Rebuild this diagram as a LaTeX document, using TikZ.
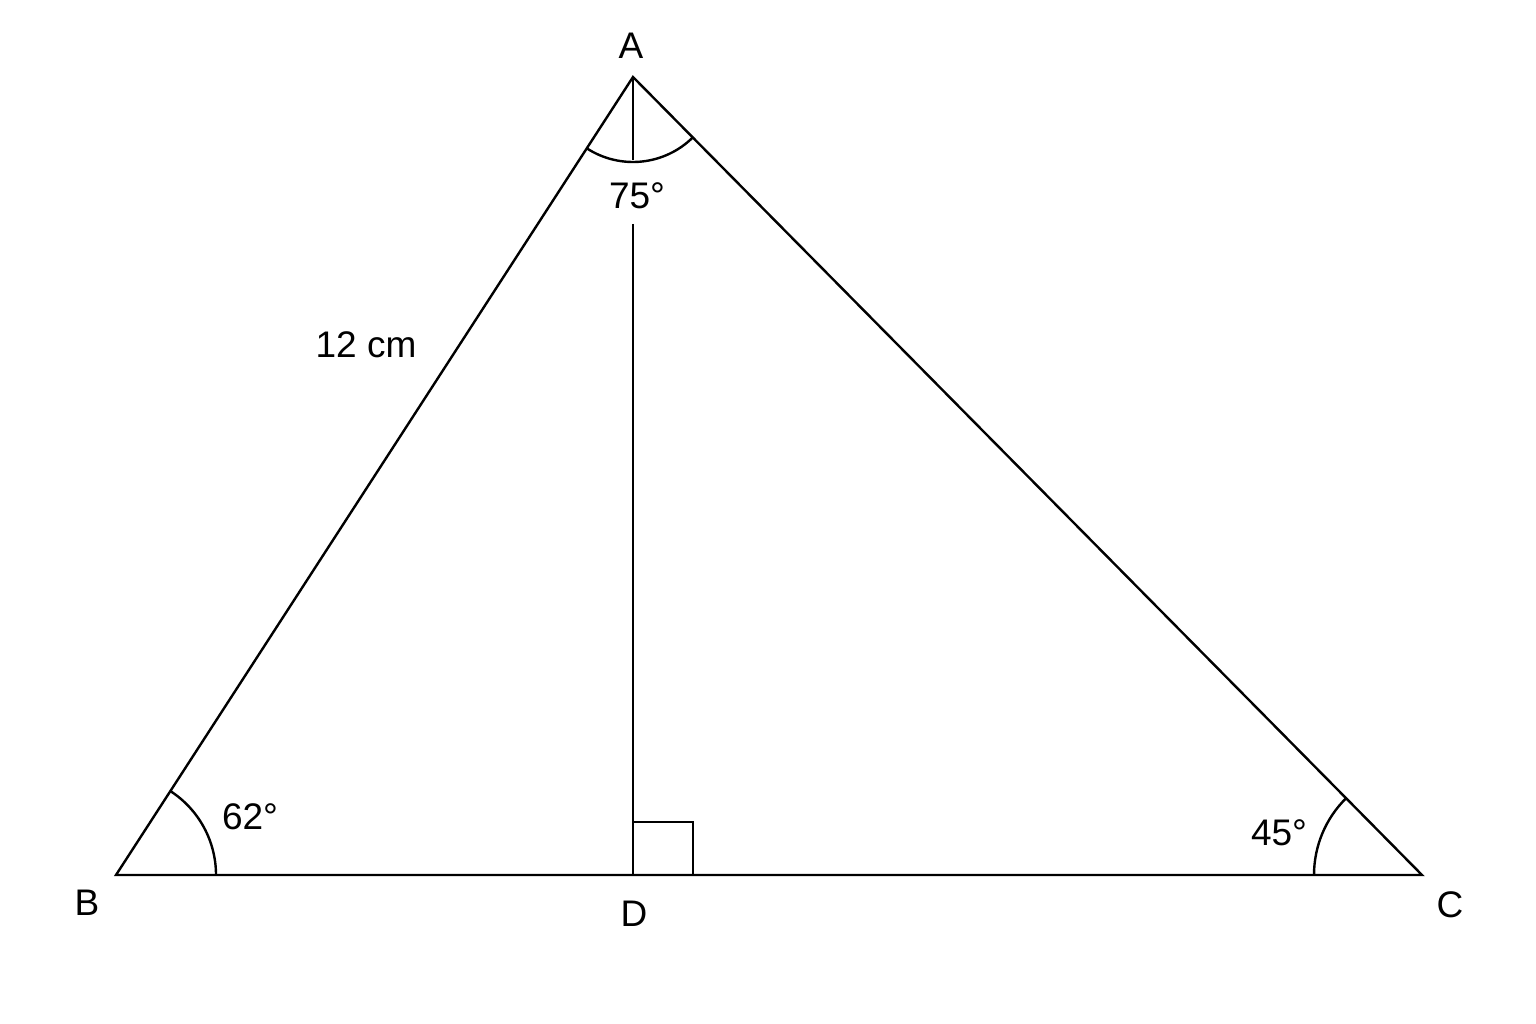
\documentclass[tikz,border=0pt]{standalone}
\usepackage{fontspec}
\setmainfont{Liberation Sans}
\usetikzlibrary{calc}
\begin{document}
\begin{tikzpicture}[x=1pt,y=1pt,line width=2.4pt,
  lbl/.style={font=\fontsize{37}{42}\selectfont,inner sep=0pt}]
\useasboundingbox (0,0) rectangle (1536,-1024);
\coordinate (A) at (633,-77);
\coordinate (B) at (116,-875);
\coordinate (C) at (1422,-875);
\coordinate (D) at (633,-875);
\coordinate (G1) at (633,-160);
\coordinate (G2) at (633,-224);
% triangle
\draw (B) -- (C) -- (A) -- cycle;
% altitude with gap for label
\draw (A) -- (G1);
\draw (G2) -- (D);
% right angle mark
\draw ($(D)+(0,53)$) -- ($(D)+(60,53)$) -- ($(D)+(60,0)$);
% angle arcs
\draw ($(B)+(100,0)$) arc[start angle=0,end angle=57.1,radius=100];
\draw ($(C)+(-108,0)$) arc[start angle=180,end angle=134.7,radius=108];
\draw ($(A)+(237.1:85)$) arc[start angle=237.1,end angle=314.7,radius=85];
% labels
\node[lbl] (lA) at (631,-46) {A};
\node[lbl] (lB) at (87,-903) {B};
\node[lbl] (lC) at (1450,-905) {C};
\node[lbl] (lD) at (634,-914) {D};
\node[lbl] (l75) at (637,-196) {75°};
\node[lbl] (l62) at (250,-817) {62°};
\node[lbl] (l45) at (1279,-833) {45°};
\node[lbl] (l12) at (366,-345) {12 cm};
\end{tikzpicture}
\end{document}
